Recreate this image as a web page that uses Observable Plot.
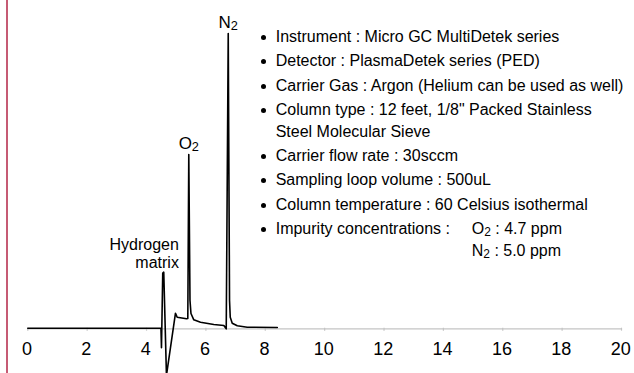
<!DOCTYPE html>
<html>
<head>
<meta charset="utf-8">
<script src="https://cdn.jsdelivr.net/npm/d3@7"></script>
<script src="https://cdn.jsdelivr.net/npm/@observablehq/plot@0.6"></script>
<style>
  html, body { margin: 0; padding: 0; background: #fff; overflow: hidden; }
  #wrap { position: relative; width: 634px; height: 373px; font-family: "Liberation Sans", Arial, sans-serif; color: #000; }
  #border { position: absolute; left: 6px; top: 0; width: 2px; height: 373px; background: #c65b74; }
  #chart { position: absolute; left: 0; top: 0; }
  #info { position: absolute; left: 275.7px; top: 26px; margin: 0; padding: 0; list-style: none; font-size: 16px; line-height: 22px; }
  #info li { position: relative; margin-bottom: 2.3px; white-space: nowrap; }
  #info li::before { content: ""; position: absolute; left: -15px; top: 9px; width: 5px; height: 5px; border-radius: 50%; background: #000; }
  #info .conc { position: absolute; left: 196px; top: 0; }
  sub { font-size: 0.75em; vertical-align: -0.2em; line-height: 0; }
</style>
</head>
<body>
<div id="wrap">
  <div id="chart"></div>
  <div id="border"></div>
  <ul id="info"></ul>
</div>
<script>
// ---- data ----
const signalTime  = [0, 4.486, 4.503, 4.546, 4.580, 4.671, 4.975, 5.032, 5.346, 5.390, 5.423, 5.464, 5.497, 5.592, 5.818, 6.266, 6.604, 6.685, 6.752, 6.796, 6.820, 6.887, 7.056, 7.393, 8.405];
const signalValue = [0, 0, -6.65, 18.7, 19.0, -16.0, 5.09, 3.73, 3.19, 3.3, 58.9, 9.4, 5.0, 2.85, 2.04, 1.26, 0.92, -0.2, 100, 9.4, 3.73, 1.70, 0.81, 0.34, 0.24];

const xTicks = [0, 2, 4, 6, 8, 10, 12, 14, 16, 18, 20];

const peakNames   = ["N₂", "O₂", "Hydrogen\nmatrix"];
const peakTimes   = [6.752, 5.423, 5.09];
const peakLabelY  = [103.8, 62.8, 25.5];
const peakAnchors = ["middle", "middle", "end"];

const infoLines = [
  "Instrument : Micro GC MultiDetek series",
  "Detector : PlasmaDetek series (PED)",
  "Carrier Gas : Argon (Helium can be used as well)",
  "Column type : 12 feet, 1/8\" Packed Stainless<br>Steel Molecular Sieve",
  "Carrier flow rate : 30sccm",
  "Sampling loop volume : 500uL",
  "Column temperature : 60 Celsius isothermal",
  "Impurity concentrations :<span class=\"conc\">O<sub>2</sub> : 4.7 ppm<br>N<sub>2</sub> : 5.0 ppm</span>"
];

// ---- build ----
const signal = signalTime.map((t, i) => ({t, v: signalValue[i]}));
const labels = peakNames.map((name, i) => ({name, t: peakTimes[i], y: peakLabelY[i], anchor: peakAnchors[i]}));

const plot = Plot.plot({
  width: 634,
  height: 373,
  marginLeft: 27.3,
  marginRight: 13,
  marginTop: 33,
  marginBottom: 0,
  style: {fontFamily: "'Liberation Sans', Arial, sans-serif", background: "transparent", overflow: "hidden"},
  x: {domain: [0, 20], axis: null},
  y: {domain: [-15.37, 100], axis: null},
  marks: [
    Plot.ruleY([0], {stroke: "#c4c4c4", strokeWidth: 1.2, dy: 0.6}),
    Plot.ruleX(xTicks, {x: d => d, y1: 0, y2: -1.0, stroke: "#c4c4c4", strokeWidth: 1.2}),
    Plot.text(xTicks, {x: d => d, y: -7.1, text: d => String(d), fontSize: 18, fill: "#000", dx: -0.8}),
    Plot.line(signal, {x: "t", y: "v", stroke: "#000", strokeWidth: 1.6, curve: "linear"}),
    Plot.text(labels.filter(d => d.anchor === "middle"), {x: "t", y: "y", text: "name", fontSize: 17, fill: "#000", textAnchor: "middle"}),
    Plot.text(labels.filter(d => d.anchor === "end"), {x: "t", y: "y", text: "name", fontSize: 16, fill: "#000", textAnchor: "end", lineHeight: 1.15})
  ]
});

// render subscript digits as smaller, lowered tspans (still real text)
plot.querySelectorAll("text").forEach(el => {
  if (el.textContent.includes("₂") && el.children.length === 0) {
    const base = el.textContent.replace("₂", "");
    el.textContent = base;
    const ts = document.createElementNS("http://www.w3.org/2000/svg", "tspan");
    ts.setAttribute("font-size", "0.75em");
    ts.setAttribute("dy", "0.2em");
    ts.textContent = "2";
    el.appendChild(ts);
  }
});

document.getElementById("chart").appendChild(plot);

const ul = document.getElementById("info");
infoLines.forEach(line => {
  const li = document.createElement("li");
  li.innerHTML = line;
  ul.appendChild(li);
});
</script>
</body>
</html>
